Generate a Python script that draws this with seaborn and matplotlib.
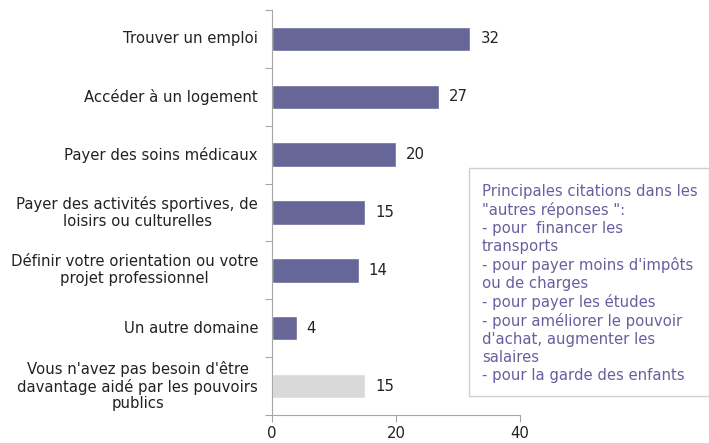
import matplotlib
matplotlib.use("Agg")
import matplotlib.pyplot as plt
import seaborn as sns
import pandas as pd

categories = [
    "Trouver un emploi",
    "Accéder à un logement",
    "Payer des soins médicaux",
    "Payer des activités sportives, de\nloisirs ou culturelles",
    "Définir votre orientation ou votre\nprojet professionnel",
    "Un autre domaine",
    "Vous n'avez pas besoin d'être\ndavantage aidé par les pouvoirs\npublics",
]
values = [32, 27, 20, 15, 14, 4, 15]
colors = ["#666699"] * 6 + ["#d9d9d9"]
xticks = [0, 20, 40]
note = ("Principales citations dans les\n\"autres réponses \":\n- pour  financer les\ntransports\n"
        "- pour payer moins d'impôts\nou de charges\n- pour payer les études\n"
        "- pour améliorer le pouvoir\nd'achat, augmenter les\nsalaires\n- pour la garde des enfants")

sns.set_style("white")
plt.rcParams['font.family'] = ['DejaVu Sans']
FS = 10.7

df = pd.DataFrame({"cat": categories, "val": values})
fig = plt.figure(figsize=(7.09, 4.43), dpi=100)
ax = fig.add_axes([272/709, 1-415/443, (520-272)/709, (415-10)/443])
sns.barplot(data=df, y="cat", x="val", hue="cat", palette=colors, legend=False,
            orient="h", width=0.42, ax=ax, saturation=1)
ax.set_xlim(0, 40)
ax.set_ylim(len(categories)-0.5, -0.5)
ax.set_xticks(xticks)
ax.set_xlabel("")
ax.set_ylabel("")
ax.set_yticks([i - 0.5 for i in range(len(categories)+1)], minor=False)
ax.set_yticklabels([])
for i, c in enumerate(categories):
    ax.text(-0.035, i, c, transform=ax.get_yaxis_transform(), ha="center", va="center",
            fontsize=FS, color="#222222", multialignment="center", linespacing=1.15)
for i, v in enumerate(values):
    ax.text(v + 1.6, i, str(v), va="center", ha="left", fontsize=FS, color="#222222")
for s in ["top", "right"]:
    ax.spines[s].set_visible(False)
for s in ["left", "bottom"]:
    ax.spines[s].set_color("#a6a6a6")
ax.tick_params(axis="x", which="both", direction="out", length=5, color="#a6a6a6",
               labelsize=FS, labelcolor="#222222", pad=3, bottom=True)
ax.tick_params(axis="y", direction="out", length=5, color="#a6a6a6", left=True)
fig.canvas.draw()
r = fig.canvas.get_renderer()
for t in ax.texts[:len(categories)]:
    bb = t.get_window_extent(r)
    t.set_transform(matplotlib.transforms.IdentityTransform())
    cy = (bb.y0 + bb.y1) / 2
    t.set_position((258 - bb.width/2, cy))

box = matplotlib.patches.Rectangle((469/709, 1-396/443), (709-469)/709, (396-168)/443,
                                   transform=fig.transFigure, facecolor="white",
                                   edgecolor="#d0d0d0", lw=1)
fig.patches.append(box)
fig.text(482/709, 1-184/443, note, fontsize=FS, color="#65619e", va="top", ha="left",
         linespacing=1.24)
fig.savefig("out.png", dpi=100)
